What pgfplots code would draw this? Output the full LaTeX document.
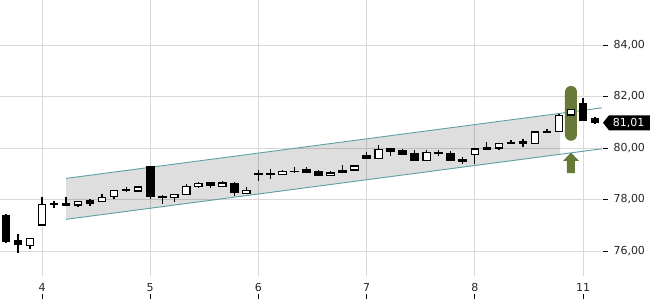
\documentclass[border=0pt]{standalone}
\usepackage{pgfplots}
\pgfplotsset{compat=1.18}
\usepackage{pgfplotstable}
\usepackage{fontspec}
\setmainfont{DejaVu Sans}
\definecolor{gridc}{RGB}{217,217,217}
\definecolor{chan}{RGB}{90,160,165}
\definecolor{olivec}{RGB}{104,122,56}
\pgfplotstableread{
x o h l c
-3 77.37 77.42 76.32 76.39
-2 76.39 76.67 75.91 76.26
-1 76.22 76.48 76.07 76.48
0 77.01 78.11 77.01 77.81
1 77.83 77.95 77.66 77.83
2 77.85 78.11 77.79 77.79
3 77.79 77.93 77.70 77.93
4 77.94 78.01 77.76 77.86
5 77.93 78.20 77.93 78.09
6 78.12 78.36 78.03 78.34
7 78.37 78.47 78.28 78.37
8 78.33 78.52 78.33 78.49
9 79.26 79.26 78.02 78.11
10 78.13 78.17 77.83 78.08
11 78.09 78.20 77.91 78.20
12 78.21 78.59 78.21 78.50
13 78.52 78.69 78.43 78.63
14 78.65 78.65 78.43 78.56
15 78.52 78.73 78.50 78.64
16 78.61 78.68 78.14 78.28
17 78.24 78.50 78.24 78.36
18 79.00 79.15 78.73 79.00
19 79.00 79.17 78.81 79.00
20 78.98 79.15 78.98 79.10
21 79.09 79.27 79.02 79.09
22 79.18 79.27 79.06 79.06
23 79.08 79.15 78.95 78.95
24 78.94 79.12 78.94 79.03
25 79.11 79.35 79.05 79.05
26 79.15 79.30 79.15 79.30
27 79.69 79.84 79.56 79.60
28 79.58 80.12 79.58 79.95
29 79.96 79.96 79.69 79.86
30 79.90 79.96 79.76 79.76
31 79.79 79.92 79.52 79.52
32 79.51 79.91 79.51 79.83
33 79.82 79.91 79.70 79.82
34 79.78 79.88 79.52 79.52
35 79.55 79.65 79.39 79.50
36 79.76 79.96 79.37 79.96
37 80.01 80.22 79.95 79.95
38 80.00 80.18 79.92 80.18
39 80.21 80.31 80.19 80.21
40 80.26 80.36 80.05 80.19
41 80.18 80.67 80.18 80.62
42 80.64 80.73 80.57 80.64
43 80.65 81.32 80.65 81.27
44 81.28 81.50 81.28 81.48
45 81.74 81.95 81.08 81.08
46 81.14 81.19 80.93 81.01
}\candles
\begin{document}
\begin{tikzpicture}
\begin{axis}[
  at={(0,0)}, anchor=south west,
  scale only axis, width=602pt, height=300pt,
  xmin=-3.494, xmax=46.58, ymin=74.097, ymax=85.748,
  clip=false,
  axis line style={draw=none},
  major tick length=0pt,
  ytick={76,78,80,82,84},
  ytick pos=right, yticklabel pos=right,
  yticklabel style={anchor=west, inner sep=0pt, xshift=11.3pt, text=black!85},
  /pgf/number format/.cd, fixed, fixed zerofill, precision=2, use comma, assume math mode=true,
  /pgfplots/.cd,
  xtick={0,9,18,27,36,45},
  xticklabels={4,5,6,7,8,11},
  xtick pos=bottom,
  xticklabel style={anchor=base, inner sep=0pt, yshift=9pt, text=black!85},
  tick label style={font=\fontsize{11}{13}\selectfont},
  ymajorgrids,
  grid style={gridc, line width=0.8pt},
]
% vertical grid lines and x tick marks
\pgfplotsinvokeforeach{0,9,18,27,36,45}{
  \draw[gridc, line width=0.8pt] (axis cs:#1,75.03) -- (axis cs:#1,85.748);
  \draw[black, line width=0.8pt] ([yshift=1pt]axis cs:#1,74.097) -- ([yshift=6pt]axis cs:#1,74.097);
}
% y tick marks
\pgfplotsinvokeforeach{76,78,80,82,84}{
  \draw[black, line width=0.8pt] ([xshift=1pt]axis cs:46.58,#1) -- ([xshift=5.5pt]axis cs:46.58,#1);
}
% channel
\addplot[draw=none, fill=black, fill opacity=0.13] coordinates {(2,78.82) (43.1,81.34) (43.1,79.75) (2,77.23)} -- cycle;
\addplot[chan, line width=0.9pt] coordinates {(2,78.82) (46.58,81.56)};
\addplot[chan, line width=0.9pt] coordinates {(2,77.23) (46.58,79.97)};
% marker pill and arrow
\fill[olivec, rounded corners=6pt] ([xshift=-6pt]axis cs:44,82.41) rectangle ([xshift=6pt]axis cs:44,80.28);
\fill[olivec] ([xshift=-4pt]axis cs:44,79.02) -- ([xshift=-4pt]axis cs:44,79.50) -- ([xshift=-8pt]axis cs:44,79.50) -- (axis cs:44,79.82) -- ([xshift=8pt]axis cs:44,79.50) -- ([xshift=4pt]axis cs:44,79.50) -- ([xshift=4pt]axis cs:44,79.02) -- cycle;
% candles: wicks
\addplot[draw=none, mark=none, forget plot,
  error bars/.cd, y dir=both, y explicit, error mark=none,
  error bar style={draw=black, line width=1.3pt}]
  table[x=x, y expr={(\thisrow{h}+\thisrow{l})/2}, y error expr={(\thisrow{h}-\thisrow{l})/2}] {\candles};
% candles: outer (black) bodies
\addplot[draw=none, mark=none, forget plot,
  error bars/.cd, y dir=both, y explicit, error mark=none,
  error bar style={draw=black, line width=8.6pt}]
  table[x=x, y expr={(\thisrow{o}+\thisrow{c})/2}, y error expr={abs(\thisrow{c}-\thisrow{o})/2+0.024}] {\candles};
% candles: white interiors of rising bodies
\addplot[draw=none, mark=none, forget plot,
  error bars/.cd, y dir=both, y explicit, error mark=none,
  error bar style={draw=white, line width=6.2pt}]
  table[x=x, y expr={(\thisrow{o}+\thisrow{c})/2}, y error expr={max((\thisrow{c}-\thisrow{o})/2-0.023,0)}] {\candles};
% last price label
\fill[black] ([xshift=1pt]axis cs:46.58,80.98) -- ([xshift=7pt,yshift=7.5pt]axis cs:46.58,80.98) -- ([xshift=60pt,yshift=7.5pt]axis cs:46.58,80.98) -- ([xshift=60pt,yshift=-7.5pt]axis cs:46.58,80.98) -- ([xshift=7pt,yshift=-7.5pt]axis cs:46.58,80.98) -- cycle;
\node[white, anchor=west, inner sep=0pt, font=\fontsize{11}{13}\selectfont] at ([xshift=10.7pt]axis cs:46.58,80.98) {81,01};
\end{axis}
\pgfresetboundingbox
\path[use as bounding box] (0,0) rectangle (650pt,300pt);
\end{tikzpicture}
\end{document}
